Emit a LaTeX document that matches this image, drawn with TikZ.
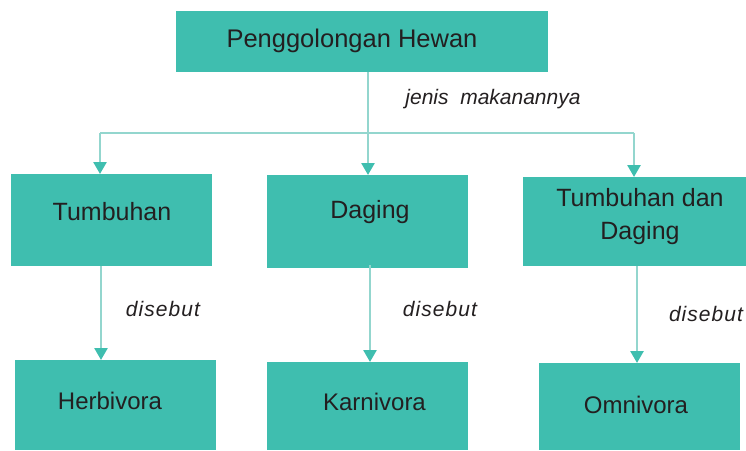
\documentclass[tikz,border=0pt]{standalone}
\usepackage{fontspec}
\setmainfont{Liberation Sans}
\newfontfamily\spacedfont[LetterSpace=5]{Liberation Sans}
\usetikzlibrary{arrows.meta}
\definecolor{boxteal}{HTML}{3FBEAF}
\definecolor{lineteal}{HTML}{93D6CE}
\definecolor{ink}{HTML}{231F20}
\begin{document}
\begin{tikzpicture}[x=1pt,y=-1pt,
  box/.style={fill=boxteal, draw=none, inner sep=0pt, outer sep=0pt},
  lbl/.style={text=ink, inner sep=0pt, font=\fontsize{25}{33}\selectfont, align=center},
  lblsmall/.style={lbl, font=\fontsize{24}{29}\selectfont},
  note/.style={text=ink, inner sep=0pt, font=\fontsize{21}{25}\selectfont\itshape},
  spnote/.style={note, font=\spacedfont\fontsize{21}{25}\selectfont\itshape},
  link/.style={draw=lineteal, line width=2.6pt},
  arrowlink/.style={link, -{Triangle[width=13pt,length=12pt,color=boxteal]}}]
\useasboundingbox (0,0) rectangle (746,450);

% boxes
\node[box, minimum width=372pt, minimum height=61pt] (top) at (362,41.5) {};
\node[box, minimum width=201pt, minimum height=92pt] (tumb) at (111.5,220) {};
\node[box, minimum width=201pt, minimum height=93pt] (dag) at (367.5,221.5) {};
\node[box, minimum width=223pt, minimum height=89pt] (tudag) at (634.5,221.5) {};
\node[box, minimum width=201pt, minimum height=90pt] (herb) at (115.5,405) {};
\node[box, minimum width=201pt, minimum height=88pt] (karn) at (367.5,406) {};
\node[box, minimum width=201pt, minimum height=87pt] (omni) at (639.5,406.5) {};

% box texts
\node[lbl, font=\fontsize{25.5}{29}\selectfont] (topT) at (352,41) {Penggolongan Hewan};
\node[lbl] (tumbT) at (112,212) {Tumbuhan};
\node[lbl] (dagT) at (370,212) {Daging};
\node[lbl] (tudagT) at (640,217) {Tumbuhan dan\\Daging};
\node[lblsmall] (herbT) at (110,401) {Herbivora};
\node[lblsmall] (karnT) at (374.5,402) {Karnivora};
\node[lblsmall] (omniT) at (636,405) {Omnivora};

% connector labels
\node[note] (jenis) at (493,99) {jenis\ \ makanannya};
\node[spnote] (d1) at (163,309) {disebut};
\node[spnote] (d2) at (440,309) {disebut};
\node[spnote] (d3) at (706,314) {disebut};

% branching connector
\coordinate (jn) at (368,133);
\coordinate (jl) at (100,133);
\coordinate (jr) at (634,133);
\draw[link] (top.south -| jn) -- (jn);
\draw[link] (jl) -- (jr);
\draw[arrowlink] (jl) -- (jl |- tumb.north);
\draw[arrowlink] (jn) -- (jn |- dag.north);
\draw[arrowlink] (jr) -- (jr |- tudag.north);

% lower connectors
\coordinate (c1) at (101,266);
\coordinate (c2) at (370,265);
\coordinate (c3) at (637,266);
\draw[arrowlink] (c1) -- (c1 |- herb.north);
\draw[arrowlink] (c2) -- (c2 |- karn.north);
\draw[arrowlink] (c3) -- (c3 |- omni.north);
\end{tikzpicture}
\end{document}
